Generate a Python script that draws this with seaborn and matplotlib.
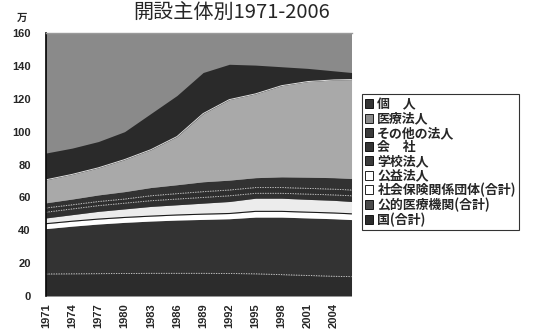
import numpy as np
import pandas as pd
import matplotlib
matplotlib.use("Agg")
import matplotlib.pyplot as plt
from matplotlib.patches import Patch
import seaborn as sns

# ---- data (万床), cumulative tops read per year, stacked bottom -> top ----
years = [1971, 1974, 1977, 1980, 1983, 1986, 1989, 1992, 1995, 1998, 2001, 2004, 2006]
top_kuni      = [13.4, 13.5, 13.6, 13.7, 13.8, 13.8, 13.8, 13.7, 13.5, 13.0, 12.5, 12.0, 11.8]
top_koteki    = [41.0, 42.5, 43.8, 44.8, 45.6, 46.2, 46.6, 47.0, 48.0, 48.0, 47.5, 47.0, 46.5]
top_shaho     = [44.0, 45.5, 46.8, 47.8, 48.6, 49.3, 49.8, 50.2, 51.5, 51.5, 51.0, 50.5, 50.0]
top_koeki     = [47.5, 49.5, 51.5, 53.0, 54.5, 55.5, 56.5, 57.5, 59.5, 59.5, 58.8, 58.2, 57.5]
top_gakko     = [51.0, 53.0, 55.0, 56.5, 58.0, 59.0, 60.0, 61.0, 62.5, 62.5, 62.0, 61.5, 61.0]
top_kaisha    = [53.6, 55.5, 57.5, 59.0, 61.0, 62.3, 63.5, 64.5, 66.0, 66.0, 65.5, 65.0, 64.5]
top_sonota    = [56.7, 59.0, 61.5, 63.5, 66.0, 67.7, 69.5, 70.5, 72.0, 72.5, 72.3, 72.0, 71.5]
top_iryo      = [70.7, 74.0, 78.0, 83.0, 89.0, 97.0, 111.0, 119.5, 123.0, 128.0, 130.5, 131.5, 131.7]
top_kojin     = [87.0, 90.0, 94.0, 100.0, 111.0, 122.0, 136.0, 141.0, 140.5, 139.5, 138.5, 137.0, 136.0]

labels = ["国(合計)", "公的医療機関(合計)", "社会保険関係団体(合計)", "公益法人",
          "学校法人", "会　社", "その他の法人", "医療法人", "個　人"]
tops = [top_kuni, top_koteki, top_shaho, top_koeki, top_gakko,
        top_kaisha, top_sonota, top_iryo, top_kojin]

DARK = "#2c2c2c"
colors = [DARK, "#333333", "#ffffff", "#ececec", "#303030",
          "#2e2e2e", "#323232", "#a9a9a9", "#2a2a2a"]
legend_colors = [DARK, "#4a4a4a", "#ffffff", "#ffffff", "#3a3a3a",
                 "#333333", "#3a3a3a", "#8a8a8a", "#333333"]

cum = np.array(tops)
layers = np.vstack([cum[0], np.diff(cum, axis=0)])

sns.set_theme(style="white")
plt.rcParams["font.family"] = ["Noto Sans CJK JP", "DejaVu Sans"]

fig = plt.figure(figsize=(5.45, 3.34), dpi=100)
ax = fig.add_axes([0.0844, 0.1138, 0.5606, 0.7872])
ax.set_facecolor("#8a8a8a")

ax.stackplot(years, layers, colors=colors, linewidth=0)

# thin boundary lines between the bands
edge = pd.DataFrame({"year": years * 3,
                     "v": top_kuni + top_gakko + top_kaisha,
                     "k": ["a"] * 13 + ["b"] * 13 + ["c"] * 13})
sns.lineplot(data=edge, x="year", y="v", units="k", estimator=None,
             color="#d8d8d8", lw=0.6, ls=(0, (1.5, 1.5)), ax=ax, legend=False)
sns.lineplot(x=years, y=top_shaho, color="#1a1a1a", lw=0.8, ax=ax, legend=False)
sns.lineplot(x=years, y=top_iryo, color="#e0e0e0", lw=0.7, ax=ax, legend=False)

ax.set_xlim(1971, 2006)
ax.set_ylim(0, 160)
ax.set_yticks(range(0, 161, 20))
ax.set_xticks(list(range(1971, 2005, 3)))
ax.set_xticklabels([str(y) for y in range(1971, 2005, 3)], rotation=90,
                   fontsize=8, fontweight="bold", family="Liberation Sans")
ax.set_yticklabels([str(v) for v in range(0, 161, 20)], fontsize=8,
                   fontweight="bold", family="Liberation Sans")
ax.tick_params(axis="y", length=0, pad=11)
ax.tick_params(axis="x", length=0, pad=5)
ax.set_xlabel("")
ax.set_ylabel("")
for side in ["right", "bottom"]:
    ax.spines[side].set_visible(False)
ax.spines["top"].set_color("#9a9a9a")
ax.spines["top"].set_linewidth(1.0)
ax.spines["left"].set_color("black")
ax.spines["left"].set_linewidth(1.2)

fig.text(0.425, 0.960, "開設主体別1971-2006", ha="center", va="center", fontsize=14.5)
fig.text(0.040, 0.945, "万", ha="center", va="center", fontsize=7.5, fontweight="bold")

handles = [Patch(facecolor=c, edgecolor="black", linewidth=0.6)
           for c in legend_colors[::-1]]
leg = fig.legend(handles, labels[::-1], loc="upper left",
                 bbox_to_anchor=(0.664, 0.718), fontsize=9.3, frameon=True,
                 fancybox=False, edgecolor="black", handlelength=0.6,
                 handleheight=0.7, handletextpad=0.35, labelspacing=0.02,
                 borderpad=0.25, borderaxespad=0)
leg.get_frame().set_linewidth(0.8)
for t in leg.get_texts():
    t.set_fontweight("bold")

fig.savefig("out.png", dpi=100)
